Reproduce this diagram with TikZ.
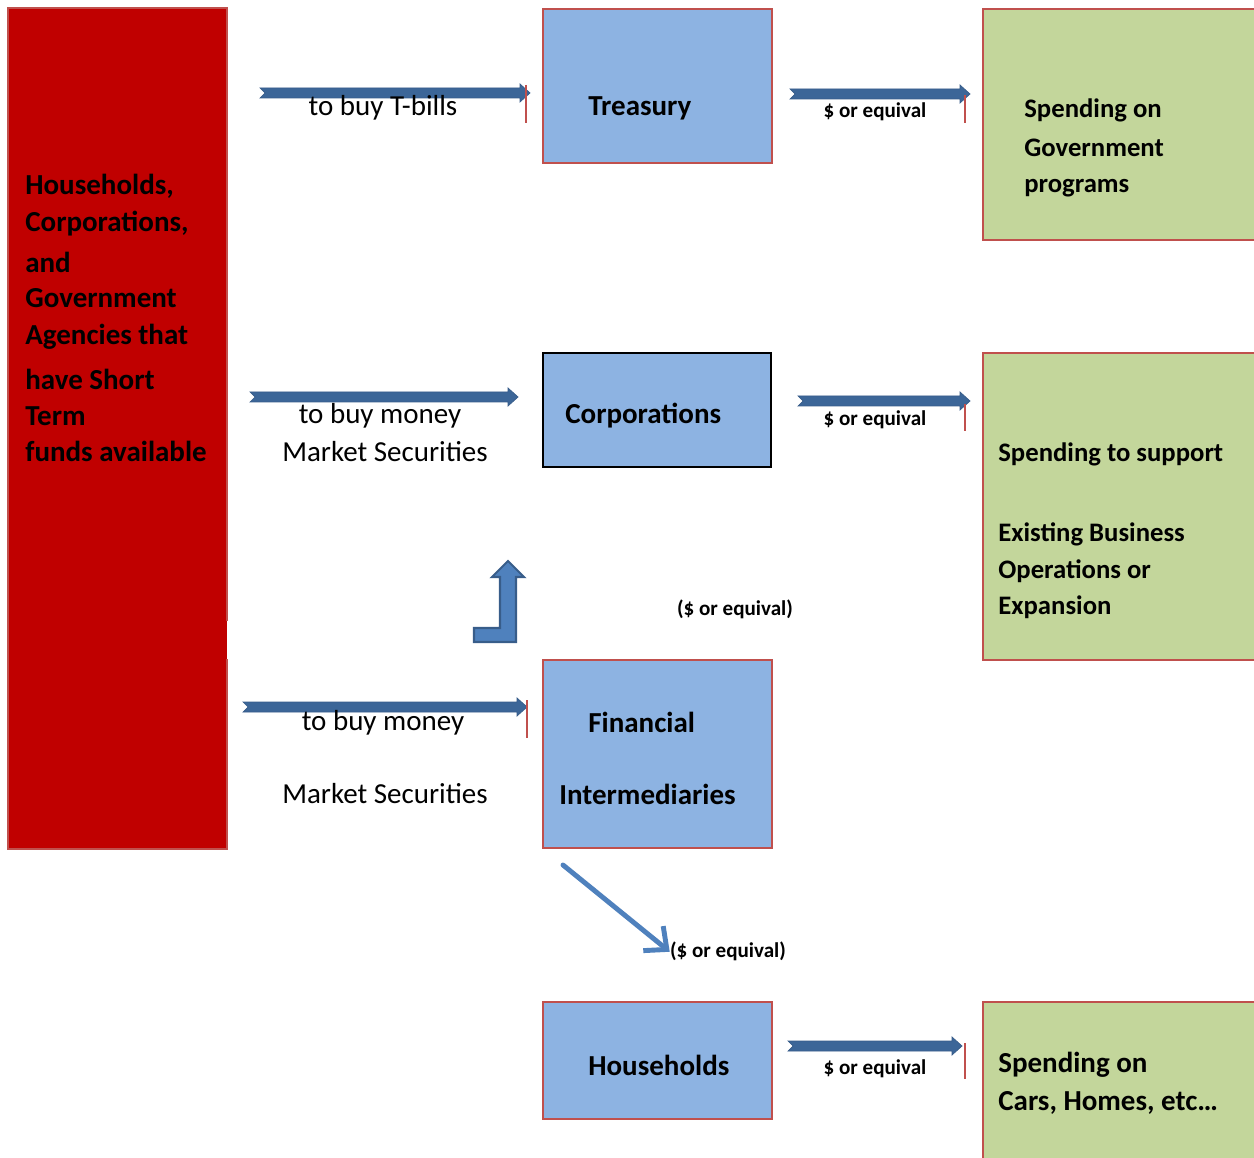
\documentclass[tikz,border=0pt]{standalone}
\usepackage{fontspec}
\setmainfont{Carlito}
\usetikzlibrary{arrows.meta,fit}
\definecolor{darkred}{HTML}{C00000}
\definecolor{edgered}{HTML}{C0504D}
\definecolor{boxblue}{HTML}{8DB3E2}
\definecolor{boxgreen}{HTML}{C3D69B}
\definecolor{arrowblue}{HTML}{4F81BD}
\definecolor{arrowdark}{HTML}{3C6698}
\definecolor{arrowedge}{HTML}{385D8A}
\newcommand{\farrow}[3]{\filldraw[flatarrow] (#1,#3-5) -- (#2-10,#3-5) -- (#2-10,#3-9) -- (#2,#3) -- (#2-10,#3+9) -- (#2-10,#3+5) -- (#1,#3+5) -- (#1+5,#3) -- cycle;}
\begin{document}
\begin{tikzpicture}[x=0.02cm,y=-0.02cm,
  bigtxt/.style={font=\fontsize{16.5}{19}\selectfont\bfseries, inner sep=0pt, anchor=west, yshift=-1.1pt},
  greentxt/.style={bigtxt, font=\fontsize{15.2}{18}\selectfont\bfseries},
  regtxt/.style={font=\fontsize{16.5}{19}\selectfont, inner sep=0pt, yshift=-1.1pt},
  smalltxt/.style={font=\fontsize{12}{14}\selectfont\bfseries, inner sep=0pt, yshift=-1pt},
  bluebox/.style={draw=edgered, fill=boxblue, line width=1.2pt, inner sep=0pt},
  greenbox/.style={draw=edgered, fill=boxgreen, line width=1.2pt, inner sep=0pt},
  flatarrow/.style={fill=arrowdark, draw=arrowedge, line width=0.4pt},
  tick/.style={draw=edgered, line width=1.6pt}]
\clip (0,0) rectangle (1254,1158);
\fill[white] (0,0) rectangle (1254,1158);

% left red box
\node[fill=darkred, inner sep=0pt, fit={(8,8)(227,849)}] (source) {};
\draw[edgered, line width=1.2pt] (227,621) -- (227,8) -- (8,8) -- (8,849) -- (227,849) -- (227,659);
\node[bigtxt] (s1) at (25,184) {Households,};
\node[bigtxt] (s2) at (25,222) {Corporations,};
\node[bigtxt] (s3) at (25,261) {and};
\node[bigtxt] (s4) at (25,296) {Government};
\node[bigtxt] (s5) at (25,335) {Agencies that};
\node[bigtxt] (s6) at (25,378) {have Short};
\node[bigtxt] (s7) at (25,414) {Term};
\node[bigtxt] (s8) at (25,450) {funds available};

% blue boxes
\node[bluebox, fit={(543,9)(772,163)}] (treasury) {};
\node[bigtxt] (t1) at (588,106) {Treasury};
\node[bluebox, draw=black, fit={(543,353)(771,467)}] (corp) {};
\node[bigtxt] (c1) at (565,414) {Corporations};
\node[bluebox, fit={(543,660)(772,848)}] (fin) {};
\node[bigtxt] (f1) at (588,721) {Financial};
\node[bigtxt] (f2) at (559,792) {Intermediaries};
\node[bluebox, fit={(543,1002)(772,1119)}] (hh) {};
\node[bigtxt] (h1) at (588,1063) {Households};

% green boxes
\node[greenbox, fit={(983,9)(1262,240)}] (gov) {};
\node[greentxt] (g1) at (1024,108) {Spending on};
\node[greentxt] (g2) at (1024,146) {Government};
\node[greentxt] (g3) at (1024,186) {programs};
\node[greenbox, fit={(983,353)(1262,660)}] (biz) {};
\node[greentxt] (b1) at (998,452) {Spending to support};
\node[greentxt] (b2) at (998,532) {Existing Business};
\node[greentxt] (b3) at (998,569) {Operations or};
\node[greentxt] (b4) at (998,605) {Expansion};
\node[greenbox, fit={(983,1002)(1262,1170)}] (cars) {};
\node[bigtxt] (k1) at (998,1063) {Spending on};
\node[bigtxt] (k2) at (998,1101) {Cars, Homes, etc…};

% flat arrows with ticks
\farrow{260}{530}{93}
\draw[tick] (526,85) -- (526,123);
\farrow{250}{518}{397}
\farrow{243}{527}{707}
\draw[tick] (527,700) -- (527,738);
\farrow{790}{970}{94}
\draw[tick] (965,95) -- (965,123);
\farrow{798}{970}{401}
\draw[tick] (965,404) -- (965,431);
\farrow{788}{962}{1046}
\draw[tick] (965,1043) -- (965,1079);

% arrow labels
\node[regtxt] (l1) at (383,106) {to buy T-bills};
\node[regtxt] (l2) at (380,414) {to buy money};
\node[regtxt] (l3) at (385,450) {Market Securities};
\node[regtxt] (l4) at (383,721) {to buy money};
\node[regtxt] (l5) at (385,792) {Market Securities};
\node[smalltxt] (e1) at (875,110) {\$ or equival};
\node[smalltxt] (e2) at (875,418) {\$ or equival};
\node[smalltxt] (e3) at (875,1067) {\$ or equival};
\node[smalltxt] (e4) at (735,608) {(\$ or equival)};
\node[smalltxt] (eqlabel) at (728,950) {(\$ or equival)};

% L-shaped up arrow
\filldraw[fill=arrowblue, draw=arrowedge, line width=1.2pt, line join=miter]
  (474,628) -- (500,628) -- (500,577) -- (492,577) -- (508,561) -- (524,577) -- (516,577) -- (516,642) -- (474,642) -- cycle;

% diagonal arrow
\coordinate (diagstart) at (563,865);
\draw[arrowblue, line width=2.8pt, line cap=round, -{Straight Barb[length=10pt,width=18pt,line width=2.8pt]}] (diagstart) -- (eqlabel.west);
\end{tikzpicture}
\end{document}
